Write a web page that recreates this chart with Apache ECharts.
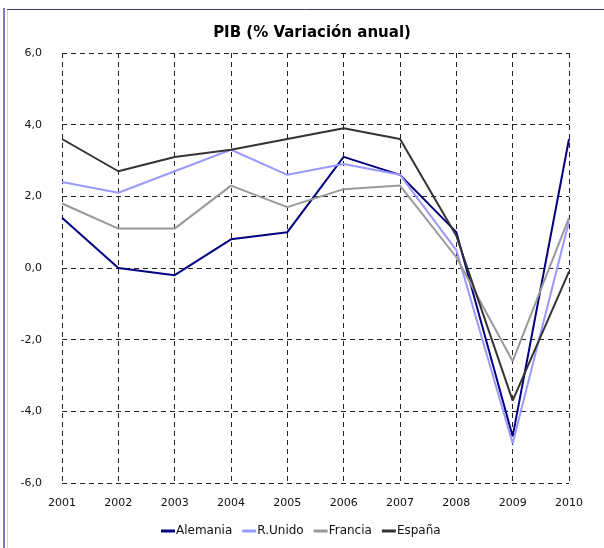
<!DOCTYPE html>
<html>
<head>
<meta charset="utf-8">
<script src="https://cdn.jsdelivr.net/npm/echarts@6/dist/echarts.min.js"></script>
<style>
  html, body { margin: 0; padding: 0; background: #fff; }
  #chart { width: 604px; height: 548px; }
</style>
</head>
<body>
<div id="chart"></div>
<script>
  // datos
  var years = ['2001', '2002', '2003', '2004', '2005', '2006', '2007', '2008', '2009', '2010'];
  var alemania = [1.4, 0.0, -0.2, 0.8, 1.0, 3.1, 2.6, 1.0, -4.7, 3.6];
  var rUnido = [2.4, 2.1, 2.7, 3.3, 2.6, 2.9, 2.6, 0.5, -4.9, 1.3];
  var francia = [1.8, 1.1, 1.1, 2.3, 1.7, 2.2, 2.3, 0.3, -2.6, 1.4];
  var espana = [3.6, 2.7, 3.1, 3.3, 3.6, 3.9, 3.6, 0.9, -3.7, -0.1];

  var colors = ['#000080', '#9999ff', '#999999', '#333333'];
  var font = '"DejaVu Sans", Verdana, sans-serif';
  var dashed = { color: '#222', width: 1, type: [5, 4] };

  var myChart = echarts.init(document.getElementById('chart'));
  var option = {
    animation: false,
    backgroundColor: '#fff',
    color: colors,
    title: {
      text: 'PIB (% Variación anual)',
      left: 307,
      top: 21,
      textAlign: 'center',
      textStyle: { fontFamily: font, fontSize: 15, fontWeight: 'bold', color: '#000' }
    },
    legend: {
      data: ['Alemania', 'R.Unido', 'Francia', 'España'],
      top: 525,
      left: 161,
      padding: 0,
      icon: 'rect',
      itemWidth: 14,
      itemHeight: 3,
      itemGap: 10,
      textStyle: { fontFamily: font, fontSize: 12, color: '#111', padding: [0, 0, 0, -4] }
    },
    grid: { left: 62, right: 35, top: 53, bottom: 65 },
    xAxis: {
      type: 'category',
      boundaryGap: false,
      data: years,
      axisLine: { show: false },
      axisTick: { show: false },
      axisLabel: { margin: 15, color: '#111', fontFamily: font, fontSize: 11 },
      splitLine: { show: true, lineStyle: dashed }
    },
    yAxis: {
      type: 'value',
      min: -6,
      max: 6,
      interval: 2,
      axisLine: { show: false },
      axisTick: { show: false },
      axisLabel: {
        margin: 20,
        color: '#111',
        fontFamily: font,
        fontSize: 11,
        formatter: function (v) { return v.toFixed(1).replace('.', ','); }
      },
      splitLine: { show: true, lineStyle: dashed }
    },
    series: [
      { name: 'Alemania', type: 'line', data: alemania, showSymbol: false, lineStyle: { width: 2 } },
      { name: 'R.Unido', type: 'line', data: rUnido, showSymbol: false, lineStyle: { width: 2 } },
      { name: 'Francia', type: 'line', data: francia, showSymbol: false, lineStyle: { width: 2 } },
      { name: 'España', type: 'line', data: espana, showSymbol: false, lineStyle: { width: 2 } }
    ],
    graphic: [
      { type: 'line', shape: { x1: 4, y1: 8, x2: 4, y2: 548 }, style: { stroke: '#7b7bc0', lineWidth: 2 } },
      { type: 'line', shape: { x1: 7.5, y1: 10, x2: 7.5, y2: 548 }, style: { stroke: '#d4d4e8', lineWidth: 1 } },
      { type: 'line', shape: { x1: 7, y1: 9.5, x2: 604, y2: 9.5 }, style: { stroke: '#3a3a7a', lineWidth: 1 } }
    ]
  };
  myChart.setOption(option);
</script>
</body>
</html>
